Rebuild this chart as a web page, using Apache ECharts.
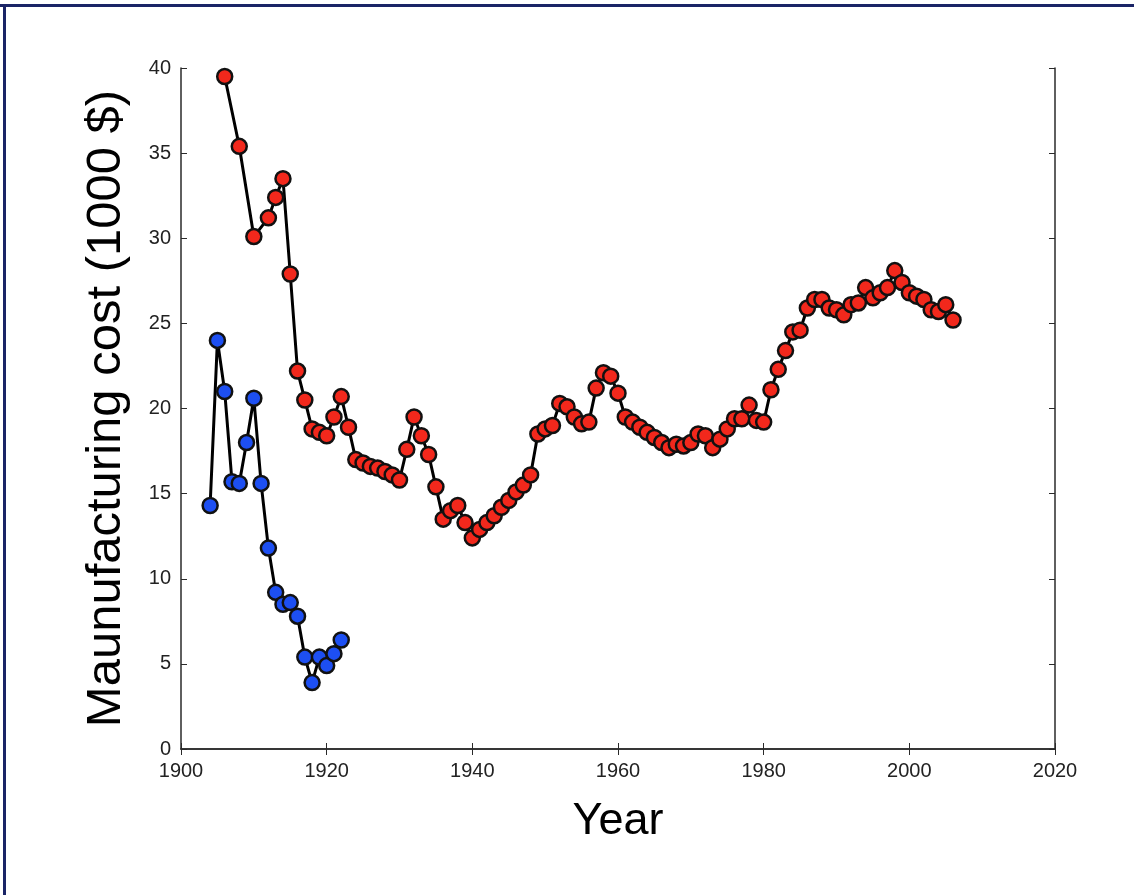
<!DOCTYPE html>
<html>
<head>
<meta charset="utf-8">
<script src="https://cdn.jsdelivr.net/npm/echarts@6/dist/echarts.min.js"></script>
<style>
  html, body { margin: 0; padding: 0; background: #fff; }
  #chart { width: 1134px; height: 895px; }
</style>
</head>
<body>
<div id="chart"></div>
<script>
// Early series (blue), one value per year
const blueYears = [1904, 1905, 1906, 1907, 1908, 1909, 1910, 1911, 1912, 1913,
                   1914, 1915, 1916, 1917, 1918, 1919, 1920, 1921, 1922];
const blueValues = [14.3, 24.0, 21.0, 15.7, 15.6, 18.0, 20.6, 15.6, 11.8, 9.2,
                    8.5, 8.6, 7.8, 5.4, 3.9, 5.4, 4.9, 5.6, 6.4];

// Long series (red)
const redYears = [1906, 1908, 1910,
  1912, 1913, 1914, 1915, 1916, 1917, 1918, 1919, 1920, 1921,
  1922, 1923, 1924, 1925, 1926, 1927, 1928, 1929, 1930, 1931,
  1932, 1933, 1934, 1935, 1936, 1937, 1938, 1939, 1940, 1941,
  1942, 1943, 1944, 1945, 1946, 1947, 1948, 1949, 1950, 1951,
  1952, 1953, 1954, 1955, 1956, 1957, 1958, 1959, 1960, 1961,
  1962, 1963, 1964, 1965, 1966, 1967, 1968, 1969, 1970, 1971,
  1972, 1973, 1974, 1975, 1976, 1977, 1978, 1979, 1980, 1981,
  1982, 1983, 1984, 1985, 1986, 1987, 1988, 1989, 1990, 1991,
  1992, 1993, 1994, 1995, 1996, 1997, 1998, 1999, 2000, 2001,
  2002, 2003, 2004, 2005, 2006];
const redValues = [39.5, 35.4, 30.1,
  31.2, 32.4, 33.5, 27.9, 22.2, 20.5, 18.8, 18.6, 18.4, 19.5,
  20.7, 18.9, 17.0, 16.8, 16.6, 16.5, 16.3, 16.1, 15.8, 17.6,
  19.5, 18.4, 17.3, 15.4, 13.5, 14.0, 14.3, 13.3, 12.4, 12.9,
  13.3, 13.7, 14.2, 14.6, 15.1, 15.5, 16.1, 18.5, 18.8, 19.0,
  20.3, 20.1, 19.5, 19.1, 19.2, 21.2, 22.1, 21.9, 20.9, 19.5,
  19.2, 18.9, 18.6, 18.3, 18.0, 17.7, 17.9, 17.8, 18.0, 18.5,
  18.4, 17.7, 18.2, 18.8, 19.4, 19.4, 20.2, 19.3, 19.2, 21.1,
  22.3, 23.4, 24.5, 24.6, 25.9, 26.4, 26.4, 25.9, 25.8, 25.5,
  26.1, 26.2, 27.1, 26.5, 26.8, 27.1, 28.1, 27.4, 26.8, 26.6,
  26.4, 25.8, 25.7, 26.1, 25.2];

const xTicks = { min: 1900, max: 2020, step: 20 };
const yTicks = { min: 0, max: 40, step: 5 };

const pairs = (xs, ys) => xs.map((x, i) => [x, ys[i]]);

const axisColor = '#2a2a2a';
const fontFamily = 'Liberation Sans, Arial, sans-serif';
const labelFont = { fontFamily, fontSize: 20, color: '#222' };

function markerSeries(name, data, fill) {
  return {
    name, type: 'line', data,
    xAxisIndex: 0, yAxisIndex: 0,
    symbol: 'circle', symbolSize: 15,
    lineStyle: { color: '#000', width: 3 },
    itemStyle: { color: fill, borderColor: '#111', borderWidth: 2.5 },
    animation: false, z: 3
  };
}

const chart = echarts.init(document.getElementById('chart'), null, { renderer: 'canvas' });
chart.setOption({
  backgroundColor: '#fff',
  animation: false,
  grid: { left: 181, top: 68, right: 79, bottom: 146, containLabel: false },
  xAxis: [
    {
      type: 'value', min: xTicks.min, max: xTicks.max, interval: xTicks.step,
      position: 'bottom',
      axisLine: { show: true, lineStyle: { color: axisColor, width: 1.5 } },
      axisTick: { show: true, inside: true, length: 6, lineStyle: { color: axisColor } },
      axisLabel: Object.assign({ margin: 12, formatter: v => String(v) }, labelFont),
      splitLine: { show: false },
      name: 'Year', nameLocation: 'middle', nameGap: 50,
      nameTextStyle: { fontFamily, fontSize: 45, color: '#000' }
    },
    {
      type: 'value', min: xTicks.min, max: xTicks.max, interval: xTicks.step,
      position: 'top',
      axisLine: { show: true, lineStyle: { color: axisColor, width: 1.5 } },
      axisTick: { show: true, inside: true, length: 6, lineStyle: { color: axisColor } },
      axisLabel: { show: false },
      splitLine: { show: false }
    }
  ],
  yAxis: [
    {
      type: 'value', min: yTicks.min, max: yTicks.max, interval: yTicks.step,
      position: 'left',
      axisLine: { show: true, lineStyle: { color: axisColor, width: 1.5 } },
      axisTick: { show: true, inside: true, length: 6, lineStyle: { color: axisColor } },
      axisLabel: Object.assign({ margin: 10, formatter: v => String(v) }, labelFont),
      splitLine: { show: false },
      name: 'Maunufacturing cost (1000 $)', nameLocation: 'middle', nameGap: 50,
      nameTextStyle: { fontFamily, fontSize: 49, color: '#000' }
    },
    {
      type: 'value', min: yTicks.min, max: yTicks.max, interval: yTicks.step,
      position: 'right',
      axisLine: { show: true, lineStyle: { color: axisColor, width: 1.5 } },
      axisTick: { show: true, inside: true, length: 6, lineStyle: { color: axisColor } },
      axisLabel: { show: false },
      splitLine: { show: false }
    }
  ],
  graphic: [
    // frame lines along the top and left edges of the page
    { type: 'rect', shape: { x: 0, y: 4, width: 1134, height: 3 }, style: { fill: '#1a2466' }, silent: true },
    { type: 'rect', shape: { x: 3, y: 4, width: 3, height: 891 }, style: { fill: '#1a2466' }, silent: true }
  ],
  series: [
    markerSeries('red', pairs(redYears, redValues), '#f2281c'),
    markerSeries('blue', pairs(blueYears, blueValues), '#1d4ff2')
  ]
});
</script>
</body>
</html>
